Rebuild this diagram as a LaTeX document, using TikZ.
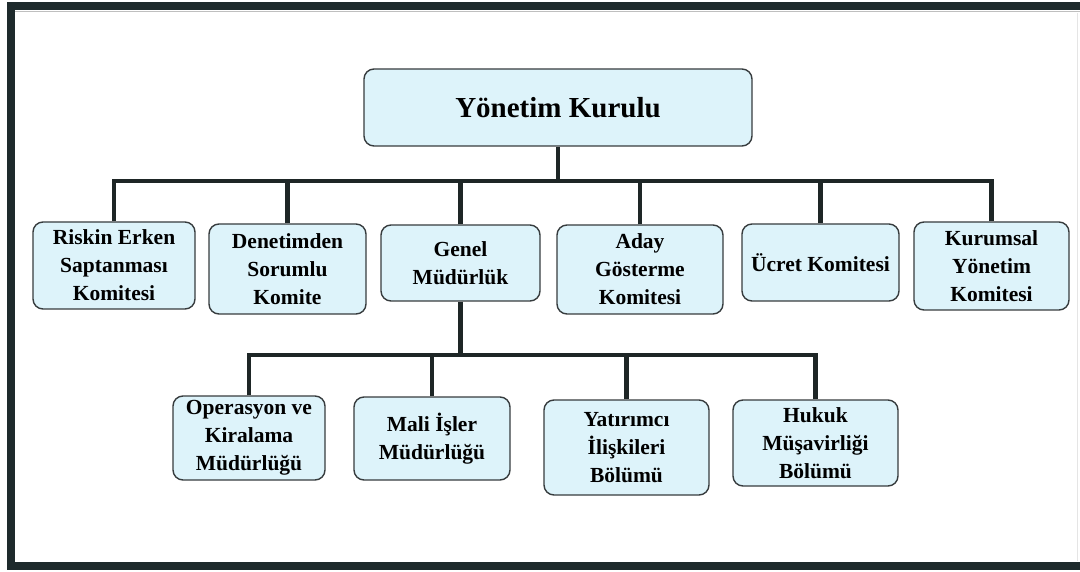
\documentclass[tikz,border=0pt]{standalone}
\usepackage{fontspec}
\setmainfont{Liberation Serif}
\definecolor{boxfill}{RGB}{221,243,250}
\definecolor{boxline}{RGB}{55,60,62}
\definecolor{linkcol}{RGB}{30,38,38}
\definecolor{framecol}{RGB}{30,42,44}
\tikzset{
  orgbox/.style={draw=boxline, line width=1.4pt, fill=boxfill, rounded corners=10pt,
    align=center, inner sep=2pt, font=\fontsize{21.5}{28}\selectfont\bfseries},
  link/.style={draw=linkcol, line width=4.5pt},
}
\begin{document}
\begin{tikzpicture}[x=1pt,y=-1pt]
\useasboundingbox (0,0) rectangle (1080,572);
% frame
\draw[framecol, line width=8pt] (1080,6) -- (11,6) -- (11,566) -- (1080,566);
\draw[gray!50, line width=1.5pt] (15,11.5) -- (1080,11.5);
\draw[gray!20, line width=1pt] (1077,13) -- (1077,561);
% nodes
\node[orgbox, minimum width=388pt, minimum height=77pt, font=\fontsize{29}{34}\selectfont\bfseries] (yk) at (558,107.5) {Yönetim Kurulu};
\node[orgbox, minimum width=162pt, minimum height=87pt] (rk) at (114,265.5) {Riskin Erken\\Saptanması\\Komitesi};
\node[orgbox, minimum width=157pt, minimum height=90pt] (ds) at (287.5,269) {Denetimden\\Sorumlu\\Komite};
\node[orgbox, minimum width=159pt, minimum height=76pt] (gm) at (460.5,263) {Genel\\Müdürlük};
\node[orgbox, minimum width=166pt, minimum height=89pt] (ag) at (640,269.5) {Aday\\Gösterme\\Komitesi};
\node[orgbox, minimum width=157pt, minimum height=77pt] (uk) at (820.5,262.5) {Ücret Komitesi};
\node[orgbox, minimum width=155pt, minimum height=88pt] (ky) at (991.5,266) {Kurumsal\\Yönetim\\Komitesi};
\node[orgbox, minimum width=152pt, minimum height=84pt] (op) at (249,438) {Operasyon ve\\Kiralama\\Müdürlüğü};
\node[orgbox, minimum width=156pt, minimum height=83pt] (mi) at (432,438.5) {Mali İşler\\Müdürlüğü};
\node[orgbox, minimum width=165pt, minimum height=95pt] (yi) at (626.5,447.5) {Yatırımcı\\İlişkileri\\Bölümü};
\node[orgbox, minimum width=165pt, minimum height=86pt] (hm) at (815.5,443) {Hukuk\\Müşavirliği\\Bölümü};
% buses
\coordinate (busA) at (0,181);
\coordinate (busB) at (0,355);
\draw[link] (yk.south) -- (yk.south |- busA);
\draw[link, line cap=rect] (rk.north |- busA) -- (ky.north |- busA);
\foreach \n in {rk,ds,gm,ag,uk,ky} {\draw[link] (\n.north) -- (\n.north |- busA);}
\draw[link] (gm.south) -- (gm.south |- busB);
\draw[link, line cap=rect] (op.north |- busB) -- (hm.north |- busB);
\foreach \n in {op,mi,yi,hm} {\draw[link] (\n.north) -- (\n.north |- busB);}
\end{tikzpicture}
\end{document}
